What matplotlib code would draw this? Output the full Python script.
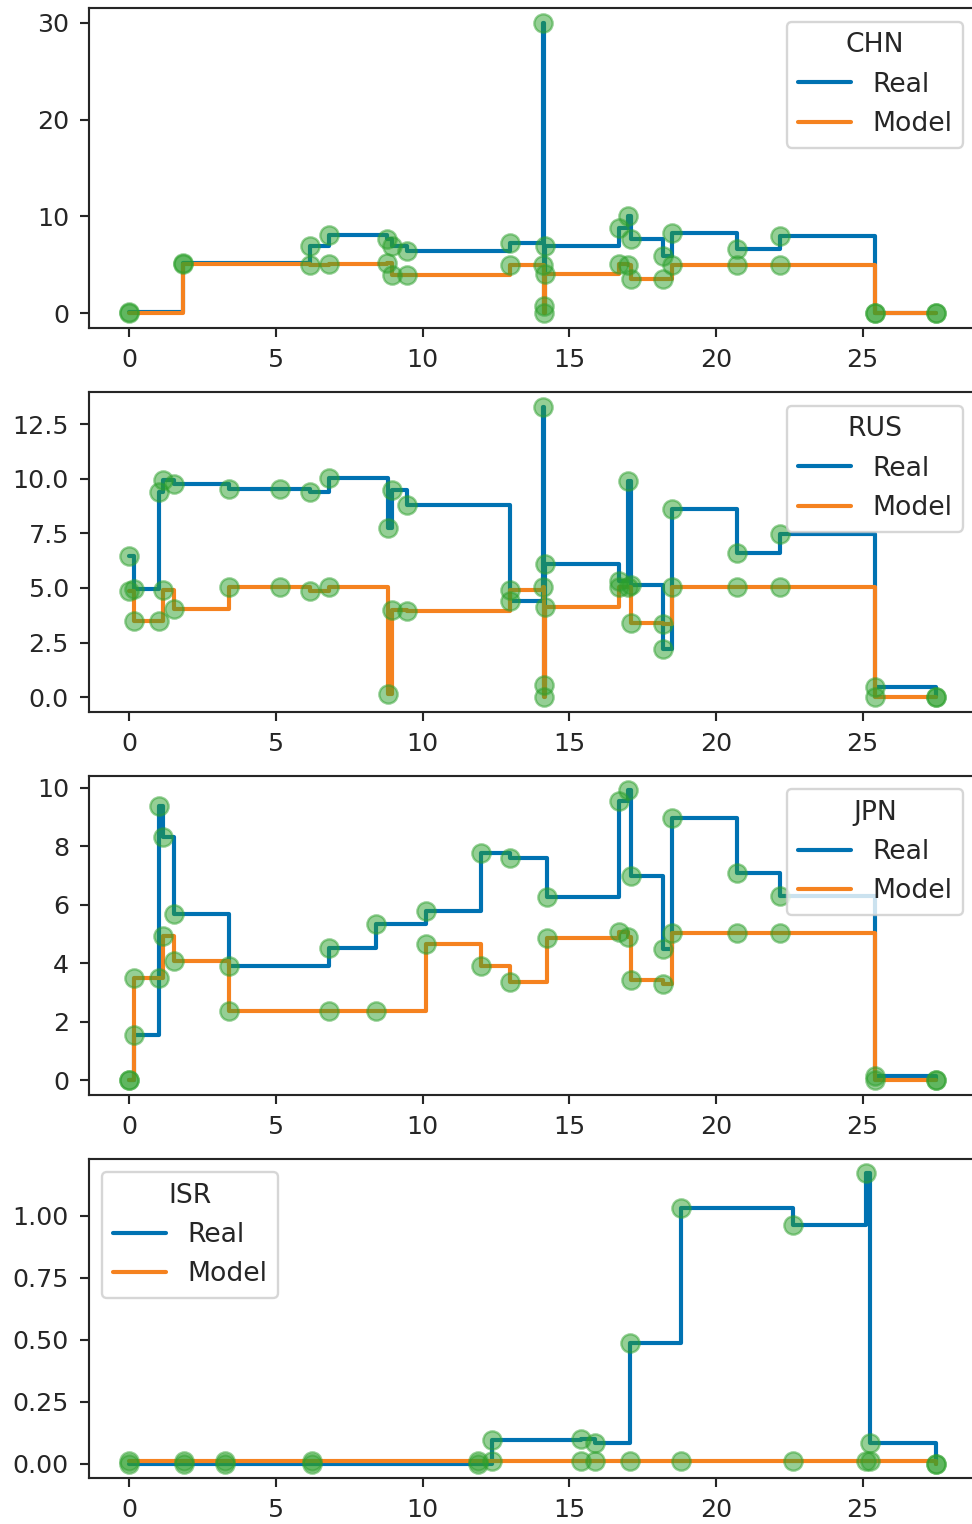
import matplotlib
matplotlib.use("Agg")
import matplotlib.pyplot as plt
import seaborn as sns

sns.set_style("ticks")
plt.rcParams['font.family'] = ['DejaVu Sans']

# ---------------- data ----------------
chn_x = [0, 1.85, 6.17, 6.8, 8.78, 8.95, 9.47, 12.97, 14.10, 14.13, 14.16,
         16.68, 16.99, 17.1, 18.19, 18.5, 20.72, 22.19, 25.43, 27.5]
chn_real = [0.1, 5.2, 6.9, 8.07, 7.7, 6.9, 6.38, 7.24, 30.0, 0.7, 6.9,
            8.8, 10.0, 7.66, 5.93, 8.28, 6.62, 7.93, 0.0, 0.0]
chn_model = [0.0, 5.05, 5.0, 5.07, 5.17, 3.97, 3.97, 4.93, 4.93, 0.0, 4.0,
             5.07, 5.0, 3.5, 3.5, 5.0, 5.0, 5.0, 0.0, 0.0]

rus_x = [0, 0.15, 1.03, 1.14, 1.53, 3.41, 5.13, 6.17, 6.8, 8.82, 8.95, 9.47,
         12.97, 14.10, 14.13, 14.16, 16.68, 16.99, 17.1, 18.19, 18.5, 20.72,
         22.19, 25.43, 27.5]
rus_real = [6.46, 4.95, 9.4, 9.94, 9.75, 9.55, 9.55, 9.4, 10.05, 7.75, 9.48, 8.79,
            4.39, 13.3, 0.58, 6.1, 5.3, 9.9, 5.15, 2.22, 8.63, 6.61,
            7.48, 0.46, 0.0]
rus_model = [4.85, 3.5, 3.5, 4.93, 4.03, 5.03, 5.03, 4.88, 5.03, 0.15, 4.0, 3.96,
             4.92, 5.03, 0.0, 4.14, 5.03, 5.03, 3.39, 3.34, 5.03, 5.03,
             5.03, 0.0, 0.0]

jpn_x = [0, 0.15, 1.03, 1.14, 1.53, 3.41, 6.8, 8.4, 10.1, 12.0, 12.97, 14.24,
         16.68, 16.99, 17.1, 18.19, 18.5, 20.72, 22.19, 25.43, 27.5]
jpn_real = [0.0, 1.54, 9.4, 8.31, 5.69, 3.93, 4.52, 5.35, 5.81, 7.78, 7.6, 6.26,
            9.57, 9.93, 7.0, 4.5, 8.96, 7.1, 6.29, 0.14, 0.0]
jpn_model = [0.0, 3.52, 3.52, 4.95, 4.1, 2.36, 2.36, 2.36, 4.67, 3.91, 3.38, 4.87,
             5.07, 4.9, 3.42, 3.3, 5.05, 5.05, 5.05, 0.02, 0.0]

isr_x = [0, 1.86, 3.25, 6.22, 11.9, 12.35, 15.4, 15.89, 17.06, 18.82, 22.61,
         25.11, 25.26, 27.5]
isr_real = [0.0, 0.0, 0.0, 0.0, 0.0, 0.094, 0.1, 0.083, 0.487, 1.03, 0.96,
            1.17, 0.085, 0.0]
isr_model = [0.012, 0.012, 0.012, 0.012, 0.012, 0.012, 0.012, 0.012, 0.012,
             0.012, 0.012, 0.012, 0.012, 0.0]

countries = ["CHN", "RUS", "JPN", "ISR"]
xs = [chn_x, rus_x, jpn_x, isr_x]
reals = [chn_real, rus_real, jpn_real, isr_real]
models = [chn_model, rus_model, jpn_model, isr_model]
legend_locs = ["upper right", "upper right", "upper right", "upper left"]

# ---------------- figure ----------------
DPI = 170
fig = plt.figure(figsize=(972 / DPI, 1524 / DPI), dpi=DPI)

left = 88.8 / 972
width = (976.4 - 88.8) / 972
height = 319.5 / 1524
bottoms_px = [327.7, 711.7, 1095.0, 1478.3]

BLUE = "#0072b2"
ORANGE = "#f5821f"
GREEN = "#2ca02c"

for i, c in enumerate(countries):
    b = 1 - bottoms_px[i] / 1524
    ax = fig.add_axes([left, b, width, height])
    x, r, m = xs[i], reals[i], models[i]
    ax.step(x, r, where="post", color=BLUE, lw=1.75, label="Real")
    ax.step(x, m, where="post", color=ORANGE, lw=1.75, label="Model")
    ax.scatter(x, r, s=60, color=GREEN, alpha=0.5, zorder=3)
    ax.scatter(x, m, s=60, color=GREEN, alpha=0.5, zorder=3)
    ax.set_xticks([0, 5, 10, 15, 20, 25])
    ax.tick_params(labelsize=10.7, length=3.8, width=0.9, pad=4.6)
    for sp in ax.spines.values():
        sp.set_linewidth(0.9)
    leg = ax.legend(title=c, loc=legend_locs[i], fontsize=11.3,
                    title_fontsize=11.3)

fig.savefig("out.png", dpi=DPI)
